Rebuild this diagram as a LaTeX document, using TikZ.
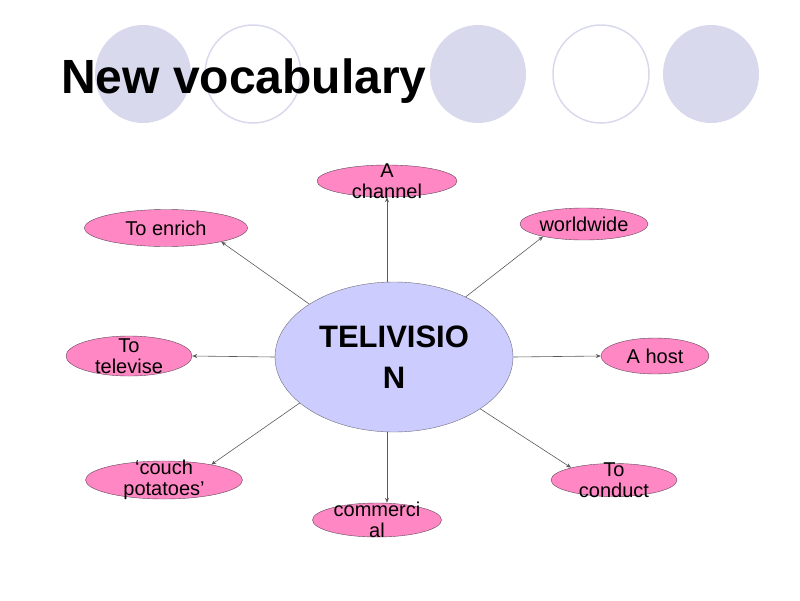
\documentclass[tikz,border=0pt]{standalone}
\usepackage{fontspec}
\setmainfont{Liberation Sans}
\usetikzlibrary{shapes.geometric, arrows.meta}

\definecolor{dotfill}{RGB}{217,217,238}
\definecolor{hubfill}{RGB}{204,204,255}
\definecolor{hubline}{RGB}{110,110,120}
\definecolor{wordfill}{RGB}{255,136,196}
\definecolor{wordline}{RGB}{95,70,90}
\definecolor{linkgray}{RGB}{90,90,90}

\begin{document}
\begin{tikzpicture}[x=1pt, y=-1pt,
  word/.style={draw=wordline, fill=wordfill, ellipse, inner xsep=0pt, inner ysep=-20pt, align=center, font=\fontsize{20}{21}\selectfont},
  hub/.style={draw=hubline, fill=hubfill, ellipse, inner sep=-30pt, align=center, font=\fontsize{31}{41}\selectfont\bfseries},
  link/.style={draw=linkgray, line width=0.6pt, -{Stealth[length=5pt, width=4pt]}}]
\useasboundingbox (0,0) rectangle (800,600);

% background dots
\fill[dotfill] (143,74) ellipse (48 and 49);
\draw[dotfill, line width=1.5pt] (253,74) ellipse (48 and 49);
\fill[dotfill] (478,74) ellipse (48 and 49);
\draw[dotfill, line width=1.5pt] (601,74) ellipse (48 and 49);
\fill[dotfill] (711,74) ellipse (48 and 49);

\node[anchor=base west, inner sep=0pt, font=\fontsize{48}{48}\selectfont\bfseries] (title) at (61,93) {New vocabulary};

\node[hub, minimum width=238, minimum height=150] (tv) at (394,357) {TELIVISIO\\N};

\node[word, minimum width=140, minimum height=32] (chan) at (387,181) {A\\channel};
\node[word, minimum width=128, minimum height=32] (world) at (584,224) {worldwide};
\node[word, minimum width=163, minimum height=37] (enrich) at (166,228) {To enrich};
\node[word, minimum width=126, minimum height=40] (telev) at (129,356) {To\\televise};
\node[word, minimum width=108, minimum height=36] (host) at (655,356) {A host};
\node[word, minimum width=157, minimum height=38] (couch) at (164,480) {`couch\\potatoes'};
\node[word, minimum width=129, minimum height=34] (comm) at (377,520) {commerci\\al};
\node[word, minimum width=126, minimum height=33] (cond) at (614,480) {To\\conduct};

\draw[link] (tv.north -| chan) -- (chan);
\draw[link] (tv.40) -- (world.-163);
\draw[link] (tv.148) -- (enrich.-14);
\draw[link] (tv.west) -- (telev.east);
\draw[link] (tv.east) -- (host.west);
\draw[link] (tv.-154) -- (couch.18);
\draw[link] (tv.south -| chan) -- (comm.north -| chan);
\draw[link] (tv.-31) -- (cond.164);

\end{tikzpicture}
\end{document}
